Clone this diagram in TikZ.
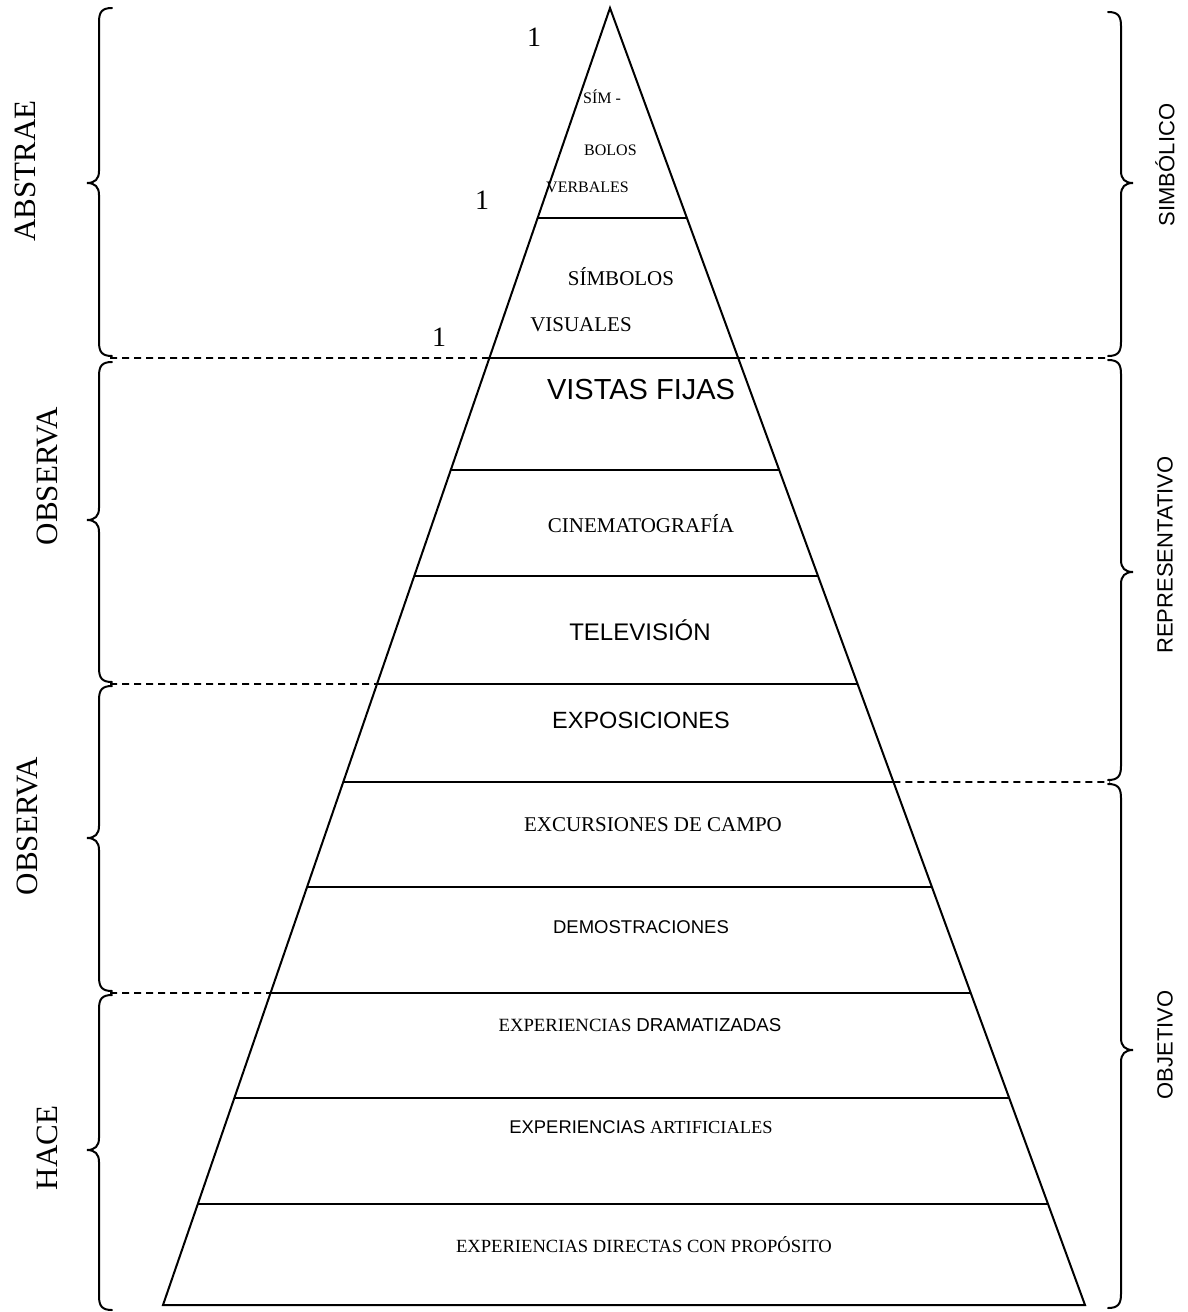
\documentclass[tikz,border=0pt]{standalone}
\usepackage{fontspec}
\setmainfont{Liberation Serif}
\newfontfamily\arialf{Liberation Sans}
\usetikzlibrary{calc}
\newcommand\fsz[1]{\fontsize{#1}{#1}\selectfont}
\newcommand\leftbr[3]{% top, tip, bottom
  \draw[bracestyle] (112,#1) .. controls (102,#1) and (99,#1+4) .. (99,#1+14) -- (99,#2-12)
    .. controls (99,#2-4) and (95,#2) .. (87,#2) .. controls (95,#2) and (99,#2+4) .. (99,#2+12)
    -- (99,#3-14) .. controls (99,#3-4) and (102,#3) .. (112,#3);}
\newcommand\rightbr[3]{% top, tip, bottom
  \draw[bracestyle] (1108,#1) .. controls (1118,#1) and (1121,#1+4) .. (1121,#1+14) -- (1121,#2-12)
    .. controls (1121,#2-4) and (1125,#2) .. (1133,#2) .. controls (1125,#2) and (1121,#2+4) .. (1121,#2+12)
    -- (1121,#3-14) .. controls (1121,#3-4) and (1118,#3) .. (1108,#3);}
\begin{document}
\begin{tikzpicture}[x=1pt,y=-1pt,
  pyr/.style={line width=2pt,black},
  dash line/.style={line width=1.6pt,dash pattern=on 7pt off 5pt},
  bracestyle/.style={line width=2pt,line cap=round},
  lbl/.style={inner sep=0pt,anchor=center},
  serifl/.style={lbl,font=\fsz{21}},
  sideL/.style={lbl,rotate=90,font=\fsz{31}},
  sideR/.style={lbl,rotate=90,font=\arialf\fsz{22}}]
\useasboundingbox (0,0) rectangle (1188,1312);
\fill[white] (0,0) rectangle (1188,1312);
% triangle
\coordinate (A) at (610,8);
\coordinate (BL) at (163,1305);
\coordinate (BR) at (1085,1305);
\draw[pyr,line join=miter] (A) -- (BL) -- (BR) -- cycle;
\foreach \yy in {218,358,470,576,684,782,887,993,1098,1204}{
  \draw[pyr] ($(A)!{(\yy-8)/1297}!(BL)$) -- ($(A)!{(\yy-8)/1297}!(BR)$);
}
% dashed separators
\coordinate (d1l) at ($(A)!{350/1297}!(BL)$);
\coordinate (d1r) at ($(A)!{350/1297}!(BR)$);
\coordinate (d2l) at ($(A)!{676/1297}!(BL)$);
\coordinate (d3r) at ($(A)!{774/1297}!(BR)$);
\coordinate (d4l) at ($(A)!{985/1297}!(BL)$);
\coordinate (e1l) at (110,358);
\coordinate (e1r) at (1110,358);
\coordinate (e2l) at (110,684);
\coordinate (e3r) at (1110,782);
\coordinate (e4l) at (110,993);
\draw[dash line] (e1l) -- (d1l);
\draw[dash line] (d1r) -- (e1r);
\draw[dash line] (e2l) -- (d2l);
\draw[dash line] (d3r) -- (e3r);
\draw[dash line] (e4l) -- (d4l);
% braces
\leftbr{8}{183}{356}
\leftbr{362}{520}{682}
\leftbr{686}{838}{991}
\leftbr{995}{1150}{1310}
\rightbr{12}{183}{356}
\rightbr{360}{572}{780}
\rightbr{784}{1050}{1308}
% side labels
\node[sideL] (abs) at (25,171) {ABSTRAE};
\node[sideL] (obs1) at (47,476) {OBSERVA};
\node[sideL] (obs2) at (27,826) {OBSERVA};
\node[sideL] (hace) at (47,1148) {HACE};
\node[sideR] (sim) at (1165,165) {SIMBÓLICO};
\node[sideR] (rep) at (1165,555) {REPRESENTATIVO};
\node[sideR] (obj) at (1165,1045) {OBJETIVO};
% numbers
\node[lbl,font=\fsz{28}] (n1) at (534,37) {1};
\node[lbl,font=\fsz{28}] (n2) at (482,200) {1};
\node[lbl,font=\fsz{28}] (n3) at (439,337) {1};
% level labels
\node[lbl,anchor=west,font=\fsz{16}] (sim1) at (583,97) {SÍM -};
\node[lbl,anchor=west,font=\fsz{16}] (sim2) at (584,150) {BOLOS};
\node[lbl,anchor=west,font=\fsz{16}] (sim3) at (546,187) {VERBALES};
\node[serifl] (sv1) at (621,277) {SÍMBOLOS};
\node[serifl] (sv2) at (581,325) {VISUALES};
\node[lbl,font=\arialf\fsz{29}] (vf) at (641,390) {VISTAS FIJAS};
\node[serifl] (cine) at (641,524) {CINEMATOGRAFÍA};
\node[lbl,font=\arialf\fsz{24}] (tv) at (640,630) {TELEVISIÓN};
\node[lbl,font=\arialf\fsz{23.5}] (expo) at (641,720) {EXPOSICIONES};
\node[serifl] (exc) at (653,825) {EXCURSIONES DE CAMPO};
\node[lbl,font=\arialf\fsz{18.5}] (demo) at (641,927) {DEMOSTRACIONES};
\node[lbl,font=\fsz{18.7}] (dram) at (640,1025) {EXPERIENCIAS {\arialf DRAMATIZADAS}};
\node[lbl,font=\fsz{18.4}] (art) at (641,1127) {{\arialf EXPERIENCIAS} ARTIFICIALES};
\node[lbl,font=\fsz{18.6}] (dir) at (644,1245) {EXPERIENCIAS DIRECTAS CON PROPÓSITO};
\end{tikzpicture}
\end{document}
